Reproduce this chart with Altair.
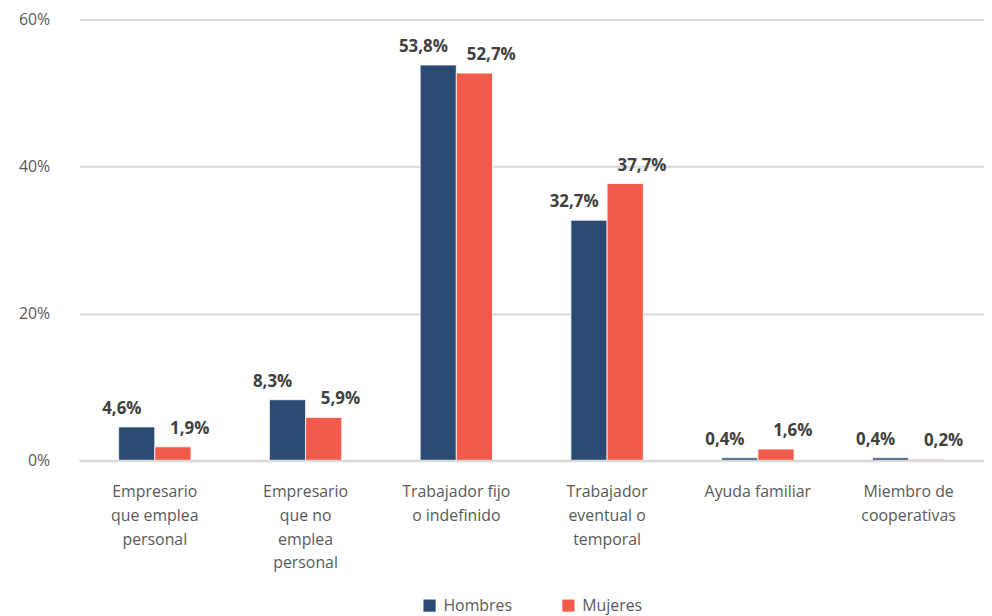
import altair as alt
import pandas as pd

categorias = [
    "Empresario\nque emplea\npersonal",
    "Empresario\nque no\nemplea\npersonal",
    "Trabajador fijo\no indefinido",
    "Trabajador\neventual o\ntemporal",
    "Ayuda familiar",
    "Miembro de\ncooperativas",
]
hombres = [4.6, 8.3, 53.8, 32.7, 0.4, 0.4]
mujeres = [1.9, 5.9, 52.7, 37.7, 1.6, 0.2]
series = ["Hombres", "Mujeres"]
colores = ["#2B4A73", "#F25B4A"]
y_ticks = [0, 20, 40, 60]

rows = []
for c, h, m in zip(categorias, hombres, mujeres):
    rows.append({"cat": c, "serie": series[0], "valor": h})
    rows.append({"cat": c, "serie": series[1], "valor": m})
df = pd.DataFrame(rows)

FONT = "Open Sans"
GRAY = "#595959"
GRID = "#D9D9D9"

base = alt.Chart(df).transform_calculate(
    etiqueta="replace(format(datum.valor, '.1f'), '.', ',') + '%'"
).encode(
    x=alt.X(
        "cat:N",
        sort=categorias,
        scale=alt.Scale(paddingInner=0.52, paddingOuter=0.26),
        axis=alt.Axis(
            title=None,
            labelExpr="split(datum.label, '\\n')",
            labelAngle=0,
            labelFont=FONT,
            labelFontSize=16,
            labelColor=GRAY,
            labelLineHeight=24,
            labelPadding=23,
            labelBaseline="top",
            ticks=False,
            domain=False,
            grid=False,
            labelLimit=200,
        ),
    ),
    xOffset=alt.XOffset("serie:N", sort=series, scale=alt.Scale(paddingInner=0.0)),
    y=alt.Y(
        "valor:Q",
        scale=alt.Scale(domain=[0, 60]),
        axis=alt.Axis(
            title=None,
            values=y_ticks,
            labelExpr="datum.value + '%'",
            labelFont=FONT,
            labelFontSize=16,
            labelColor=GRAY,
            labelPadding=30,
            ticks=False,
            domain=False,
            grid=True,
            gridColor=GRID,
            gridWidth=2,
        ),
    ),
)

bars = base.mark_bar(stroke="white", strokeWidth=0.8).encode(
    color=alt.Color(
        "serie:N",
        sort=series,
        scale=alt.Scale(domain=series, range=colores),
        legend=alt.Legend(
            title=None,
            orient="none",
            direction="horizontal",
            legendX=345,
            legendY=583,
            symbolType="square",
            symbolSize=150,
            symbolStrokeWidth=0,
            labelFont=FONT,
            labelFontSize=16,
            labelColor=GRAY,
            labelOffset=6,
            columnPadding=48,
        ),
    )
)

zero = alt.Chart(pd.DataFrame({"v": [0]})).mark_rule(
    color=GRID, strokeWidth=2
).encode(y="v:Q")

txt_h = base.transform_filter(alt.datum.serie == series[0]).mark_text(
    font=FONT, fontSize=17, fontWeight="bold", color="#404040",
    baseline="middle", dy=-18, dx=-15,
).encode(text="etiqueta:N")

txt_m = base.transform_filter(alt.datum.serie == series[1]).mark_text(
    font=FONT, fontSize=17, fontWeight="bold", color="#404040",
    baseline="middle", dy=-18, dx=17,
).encode(text="etiqueta:N")

chart = alt.layer(bars, zero, txt_h, txt_m).properties(
    width=912,
    height=445,
    autosize=alt.AutoSizeParams(type="none"),
    padding={"left": 72, "top": 9, "right": 0, "bottom": 154},
).configure_view(stroke=None)

chart.save("out.html", embed_options={"renderer": "svg", "actions": False})
